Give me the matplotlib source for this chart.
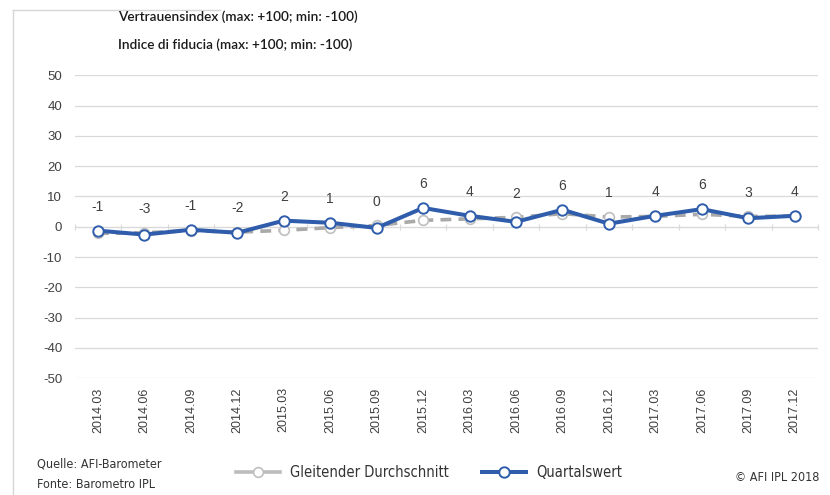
import matplotlib
matplotlib.use("Agg")
import matplotlib.pyplot as plt
from matplotlib.lines import Line2D

# data
quarters = ["2014.03", "2014.06", "2014.09", "2014.12", "2015.03", "2015.06",
            "2015.09", "2015.12", "2016.03", "2016.06", "2016.09", "2016.12",
            "2017.03", "2017.06", "2017.09", "2017.12"]
quartalswert = [-1.3, -2.6, -1.0, -2.0, 2.0, 1.3, -0.4, 6.2,
                3.6, 1.6, 5.6, 1.0, 3.6, 5.8, 2.8, 3.6]
gleitender = [-2.2, -2.0, -1.3, -1.8, -1.2, -0.3, 0.4, 2.1,
              2.6, 3.1, 4.3, 3.2, 3.4, 4.1, 3.4, 3.5]
value_labels = [-1, -3, -1, -2, 2, 1, 0, 6, 4, 2, 6, 1, 4, 6, 3, 4]
yticks = list(range(-50, 51, 10))

blue = "#2f5dab"
grey = "#a9a9a9"
txt = "#404040"

fig = plt.figure(figsize=(8.3, 4.95), dpi=100)
ax = fig.add_axes([0.090, 0.236, 0.8955, 0.612])

# faint frame lines of the scanned source
fig.add_artist(Line2D([0.016, 0.016], [0.0, 0.98], color="#d6d6d6", lw=1))
fig.add_artist(Line2D([0.016, 0.265], [0.98, 0.98], color="#d6d6d6", lw=1))

x = list(range(len(quarters)))
ax.plot(x, gleitender, color=grey, lw=2.6, ls=(0, (3, 2)), marker="o", ms=7,
        mfc="white", mec="#bfbfbf", mew=1.2, zorder=3)
ax.plot(x, quartalswert, color=blue, lw=2.9, marker="o", ms=7.5,
        mfc="white", mec=blue, mew=1.4, zorder=4)

for i, lab in enumerate(value_labels):
    top = max(quartalswert[i], gleitender[i])
    ax.annotate(str(lab), (i, top), xytext=(0, 12), textcoords="offset points",
                ha="center", va="bottom", fontsize=10, color=txt,
                family="Liberation Sans")

ax.set_xlim(-0.5, len(quarters) - 0.5)
ax.set_ylim(-50, 50)
ax.set_yticks(yticks)
ax.set_yticklabels([str(v) for v in yticks], fontsize=9.5, color=txt,
                   family="Liberation Sans")
ax.tick_params(axis="y", length=0, pad=9)
ax.grid(axis="y", color="#d9d9d9", lw=0.9)
ax.set_axisbelow(True)
for s in ["top", "right", "left"]:
    ax.spines[s].set_visible(False)

# category axis crosses at zero, labels stay at the bottom
ax.spines["bottom"].set_position(("data", 0))
ax.spines["bottom"].set_color("#d9d9d9")
ax.set_xticks([i - 0.5 for i in range(len(quarters) + 1)])
ax.set_xticklabels([])
ax.tick_params(axis="x", length=5, direction="inout", color="#d9d9d9")
for i, q in enumerate(quarters):
    ax.text(i, -0.03, q, transform=ax.get_xaxis_transform(), rotation=90,
            ha="center", va="top", fontsize=9, color=txt,
            family="Liberation Sans")

title_font = dict(fontsize=9.8, color="#1a1a1a", family="Lato",
                  weight="semibold", va="center")
fig.text(0.142, 0.966, "Vertrauensindex (max: +100; min: -100)", **title_font)
fig.text(0.142, 0.909, "Indice di fiducia (max: +100; min: -100)", **title_font)

foot = dict(family="DejaVu Sans", stretch="condensed", size=9, color="#333333")
fig.text(0.045, 0.063, "Quelle: AFI-Barometer", va="center", **foot)
fig.text(0.045, 0.022, "Fonte: Barometro IPL", va="center", **foot)
fig.text(0.885, 0.036, "© AFI IPL 2018", va="center", **foot)

handles = [
    Line2D([], [], color="#bdbdbd", lw=2.6, marker="o", ms=7,
           mfc="white", mec="#bfbfbf", mew=1.2),
    Line2D([], [], color=blue, lw=2.9, marker="o", ms=7.5,
           mfc="white", mec=blue, mew=1.4),
]
leg = fig.legend(handles, ["Gleitender Durchschnitt", "Quartalswert"],
                 loc="center", bbox_to_anchor=(0.517, 0.046), ncol=2,
                 frameon=False, handlelength=3.0, handletextpad=0.7,
                 columnspacing=2.3,
                 prop={"family": "DejaVu Sans", "stretch": "condensed",
                       "size": 10.5},
                 labelcolor="#333333")

fig.savefig("out.png", dpi=100)
